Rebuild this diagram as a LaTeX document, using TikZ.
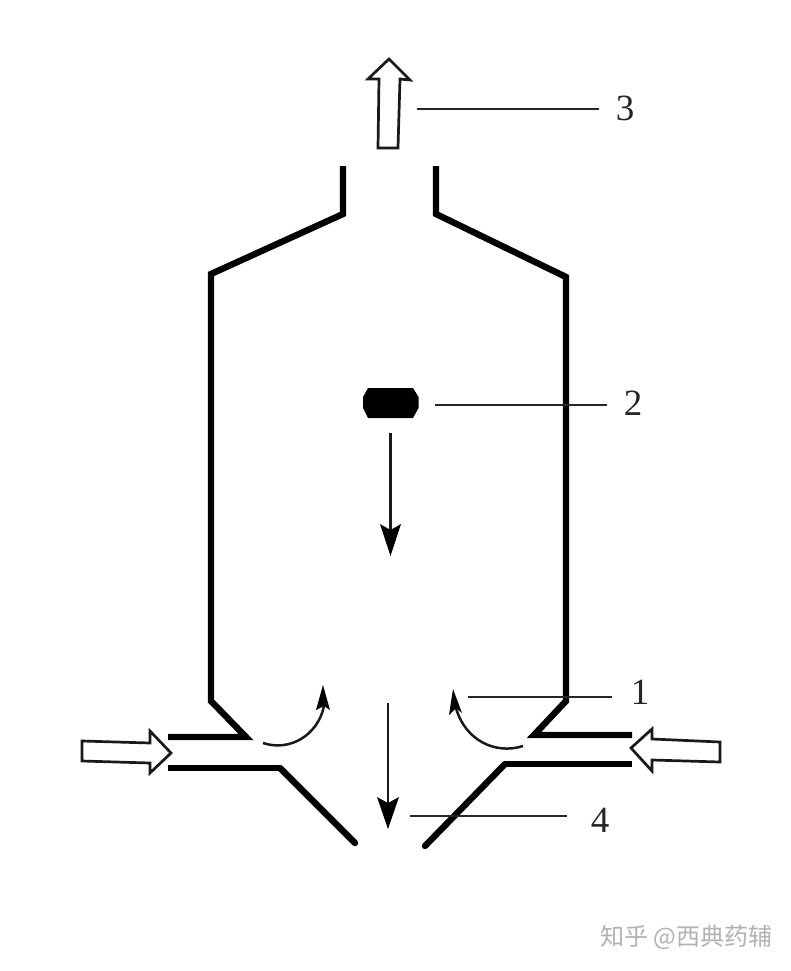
\documentclass[tikz,border=0pt]{standalone}
\usepackage{fontspec}
\setmainfont{Liberation Serif}
\newfontfamily\cjkwm{Noto Sans CJK SC}
\usetikzlibrary{arrows.meta}
\tikzset{
  x=1pt,y=-1pt,
  wall/.style={line width=6.4pt,line join=miter,line cap=butt},
  leader/.style={line width=2.3pt,black!85},
  hollow/.style={draw=black!90,fill=white,line width=2.7pt,line join=miter},
  flow/.style={line width=2.5pt,black!90},
  flowhead/.style={fill=black,draw=none},
  digit/.style={font=\fontsize{37}{37}\selectfont,text=black!85,inner sep=0pt,anchor=center},
  watermark/.style={font=\cjkwm\fontsize{24}{24}\selectfont,text=black!30,inner sep=0pt,anchor=west},
}
\begin{document}
\begin{tikzpicture}
\useasboundingbox (0,0) rectangle (791,971);
\fill[white] (0,0) rectangle (791,971);
% vessel body
\draw[wall] (343,166) -- (343,214) -- (211,274) -- (211,701) -- (246,737) -- (168,737);
\draw[wall] (436,166) -- (436,214) -- (566,277) -- (566,701) -- (534,735) -- (632,735);
% lower nozzle
\draw[wall,line cap=round] (355,843) -- (280,768);
\draw[wall] (280,768) -- (168,768);
\draw[wall,line cap=round] (425,846) -- (505,764);
\draw[wall] (505,764) -- (632,764);
% hollow arrows
\draw[hollow] (82,741) -- (150,743) -- (150,731) -- (171,753) -- (150,773) -- (150,763) -- (82,761) -- cycle;
\draw[hollow] (720,742) -- (652,739) -- (652,729) -- (631,748) -- (652,771) -- (652,760) -- (720,762) -- cycle;
\draw[hollow] (389,59) -- (410,80) -- (400,79) -- (398,148) -- (378,148) -- (379,79) -- (368,79) -- cycle;
% droplet
\fill (368,388) -- (413,388) -- (418.5,397) -- (418.5,408) -- (413,418) -- (368,418) -- (363,408) -- (363,397) -- cycle;
% straight flow arrows
\coordinate (a1) at (390.5,433); \coordinate (a2) at (390.5,530);
\draw[flow] (a1) -- (a2);
\fill[flowhead] (390.5,556) -- (380,524) -- (390.5,530) -- (401,524) -- cycle;
\coordinate (b1) at (388,703); \coordinate (b2) at (388,803);
\draw[flow] (b1) -- (b2);
\fill[flowhead] (388,829) -- (377,797) -- (388,803) -- (399,797) -- cycle;
% curved flow arrows
\draw[flow] (263,743) .. controls (290,752) and (318,735) .. (324,706);
\fill[flowhead] (323,685) -- (330,710) -- (324,706) -- (316,710) -- cycle;
\draw[flow] (523,746) .. controls (495,755) and (465,740) .. (456,708);
\fill[flowhead] (453,689) -- (462,713) -- (456,708) -- (449,715) -- cycle;
% labels
\node[digit] (n1) at (640,692) {1};
\node[digit] (n2) at (633,403) {2};
\node[digit] (n3) at (625,108) {3};
\node[digit] (n4) at (600,820) {4};
\coordinate (l1) at (468,697); \coordinate (e1) at (612,697);
\coordinate (l2) at (435,405); \coordinate (e2) at (607,405);
\coordinate (l3) at (417,109); \coordinate (e3) at (599,109);
\coordinate (l4) at (410,816); \coordinate (e4) at (567,816);
\draw[leader] (l1) -- (e1);
\draw[leader] (l2) -- (e2);
\draw[leader] (l3) -- (e3);
\draw[leader] (l4) -- (e4);
% watermark
\node[watermark] (wm) at (600,937) {知乎 @西典药辅};
\end{tikzpicture}
\end{document}
